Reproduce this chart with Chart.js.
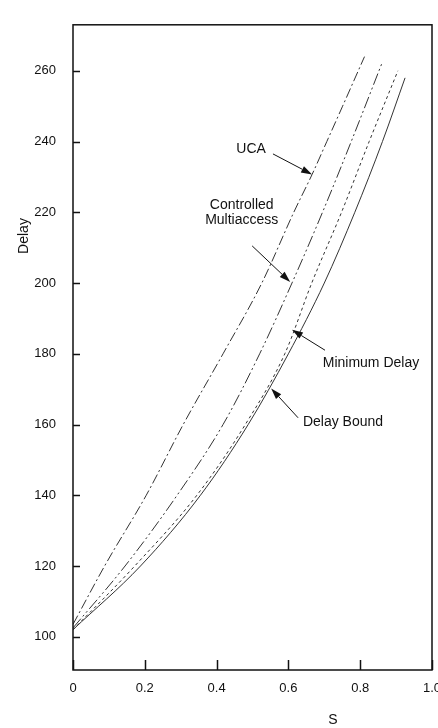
<!DOCTYPE html>
<html>
<head>
<meta charset="utf-8">
<script src="https://cdn.jsdelivr.net/npm/chart.js@4"></script>
<style>
  body { margin: 0; background: #fff; }
</style>
</head>
<body>
<canvas id="chart" width="438" height="728"></canvas>
<script>
// tick values
const sTicks = [0, 0.2, 0.4, 0.6, 0.8, 1.0]
const delayTicks = [100, 120, 140, 160, 180, 200, 220, 240, 260]

// curves (S, Delay)
const ucaS = [0, 0.088, 0.204, 0.307, 0.418, 0.526, 0.615, 0.666, 0.707, 0.751, 0.812]
const ucaDelay = [103.5, 120, 140, 160, 180, 200, 220, 230.7, 240, 250, 264]

const cmS = [0, 0.145, 0.29, 0.418, 0.52, 0.61, 0.695, 0.775, 0.86]
const cmDelay = [102.5, 120, 140, 160, 180, 200, 220, 240, 262]

const mdS = [0, 0.172, 0.345, 0.48, 0.59, 0.665, 0.748, 0.825, 0.905]
const mdDelay = [102, 120, 140, 160, 180, 200, 220, 240, 260]

const dbS = [0, 0.188, 0.355, 0.488, 0.6, 0.70, 0.785, 0.862, 0.925]
const dbDelay = [102, 120, 140, 160, 180, 200, 220, 240, 258]

const FONT = '"Liberation Sans", Arial, Helvetica, sans-serif'

const pts = (xs, ys) => xs.map((x, i) => ({ x: x, y: ys[i] }))

const line = (label, xs, ys, dash) => ({
    label: label,
    data: pts(xs, ys),
    showLine: true,
    borderColor: '#333',
    borderWidth: 1,
    borderDash: dash,
    pointRadius: 0,
    cubicInterpolationMode: 'monotone',
    fill: false
})

// label text anchor, arrow start, arrow tip (in data units)
const notes = [
    { lines: ['UCA'], at: [0.496, 237.9], from: [0.557, 236.5], to: [0.666, 230.7] },
    { lines: ['Controlled', 'Multiaccess'], at: [0.47, 220], from: [0.499, 210.5], to: [0.605, 200.3] },
    { lines: ['Minimum Delay'], at: [0.83, 177.4], from: [0.702, 181.0], to: [0.61, 186.8] },
    { lines: ['Delay Bound'], at: [0.752, 160.8], from: [0.627, 161.9], to: [0.552, 170.2] }
]

const decor = {
    id: 'decor',
    afterDraw(chart) {
        const { ctx, chartArea: a, scales: { x, y } } = chart
        ctx.save()
        ctx.strokeStyle = '#111'
        ctx.lineWidth = 1.5
        ctx.strokeRect(a.left, a.top, a.right - a.left, a.bottom - a.top)

        // inward ticks
        ctx.beginPath()
        delayTicks.forEach(v => {
            const py = Math.round(y.getPixelForValue(v)) + 0.5
            ctx.moveTo(a.left, py); ctx.lineTo(a.left + 7, py)
        })
        sTicks.forEach(v => {
            const px = Math.round(x.getPixelForValue(v)) + 0.5
            ctx.moveTo(px, a.bottom); ctx.lineTo(px, a.bottom - 10)
        })
        ctx.stroke()

        // axis titles
        ctx.fillStyle = '#111'
        ctx.font = '14px ' + FONT
        ctx.textAlign = 'center'
        ctx.textBaseline = 'middle'
        ctx.fillText('S', 333, 720)
        ctx.save()
        ctx.translate(24, 236)
        ctx.rotate(-Math.PI / 2)
        ctx.fillText('Delay', 0, 0)
        ctx.restore()

        // annotations
        ctx.lineWidth = 1
        notes.forEach(n => {
            const tx = x.getPixelForValue(n.at[0])
            const ty = y.getPixelForValue(n.at[1])
            n.lines.forEach((t, i) => {
                ctx.fillText(t, tx, ty + (i - (n.lines.length - 1) / 2) * 15)
            })
            const x0 = x.getPixelForValue(n.from[0]), y0 = y.getPixelForValue(n.from[1])
            const x1 = x.getPixelForValue(n.to[0]), y1 = y.getPixelForValue(n.to[1])
            const ang = Math.atan2(y1 - y0, x1 - x0)
            const hl = 11, hw = 3.5
            const bx = x1 - hl * Math.cos(ang), by = y1 - hl * Math.sin(ang)
            ctx.beginPath()
            ctx.moveTo(x0, y0); ctx.lineTo(bx, by)
            ctx.stroke()
            ctx.beginPath()
            ctx.moveTo(x1, y1)
            ctx.lineTo(bx + hw * Math.sin(ang), by - hw * Math.cos(ang))
            ctx.lineTo(bx - hw * Math.sin(ang), by + hw * Math.cos(ang))
            ctx.closePath()
            ctx.fill()
        })
        ctx.restore()
    }
}

new Chart(document.getElementById('chart'), {
    type: 'scatter',
    data: {
        datasets: [
            line('UCA', ucaS, ucaDelay, [10, 3, 2, 3]),
            line('Controlled Multiaccess', cmS, cmDelay, [12, 3, 2, 3, 2, 3]),
            line('Minimum Delay', mdS, mdDelay, [3, 3]),
            line('Delay Bound', dbS, dbDelay, [])
        ]
    },
    options: {
        responsive: false,
        devicePixelRatio: 1,
        animation: false,
        layout: { padding: { top: 10, right: 6, left: 0, bottom: 0 } },
        plugins: { legend: { display: false }, tooltip: { enabled: false } },
        scales: {
            x: {
                type: 'linear',
                min: 0,
                max: 1,
                afterBuildTicks: s => { s.ticks = sTicks.map(v => ({ value: v })) },
                afterFit: s => { s.height = 58; s.paddingLeft = 0; s.paddingRight = 0 },
                grid: { display: false, drawTicks: false },
                border: { display: false },
                ticks: {
                    padding: 11,
                    color: '#111',
                    font: { family: FONT, size: 13 },
                    maxRotation: 0,
                    autoSkip: false,
                    callback: v => v === 0 ? '0' : v.toFixed(1)
                }
            },
            y: {
                min: 90.6,
                max: 273,
                afterBuildTicks: s => { s.ticks = delayTicks.map(v => ({ value: v })) },
                afterFit: s => { s.width = 73 },
                grid: { display: false, drawTicks: false },
                border: { display: false },
                ticks: {
                    padding: 17,
                    color: '#111',
                    font: { family: FONT, size: 13 },
                    autoSkip: false
                }
            }
        }
    },
    plugins: [decor]
})
</script>
</body>
</html>
